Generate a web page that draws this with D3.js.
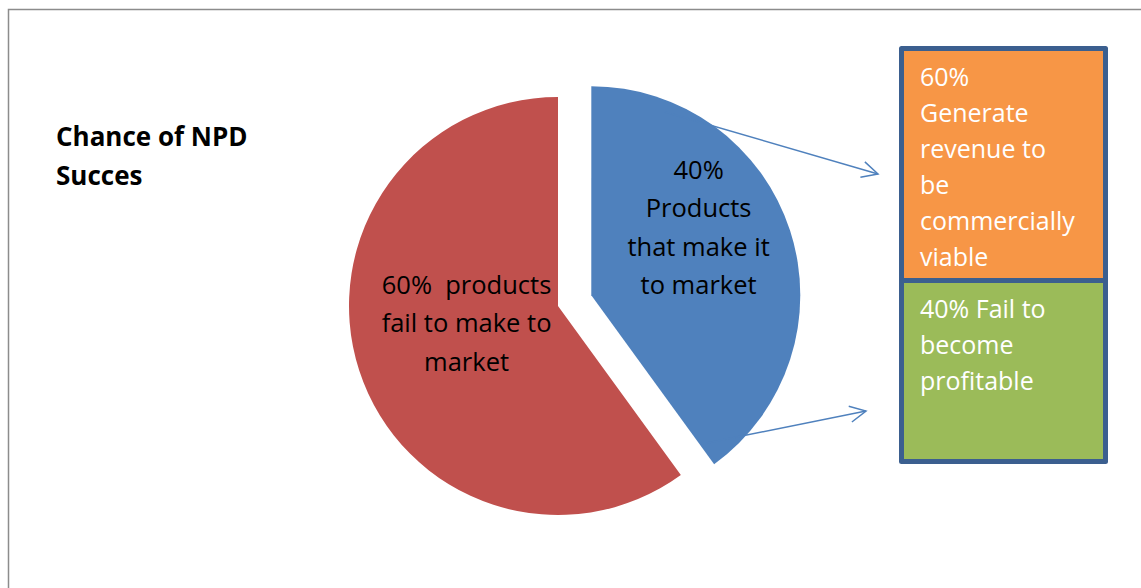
<!DOCTYPE html>
<html>
<head>
<meta charset="utf-8">
<style>
  body { margin: 0; background: #fff; }
  svg { display: block; }
  text { font-family: "Open Sans", "Noto Sans", sans-serif; white-space: pre; }
</style>
<script src="https://d3js.org/d3.v7.min.js"></script>
</head>
<body>
<script>
  // slice data (clockwise from 12 o'clock)
  var categories = ["40% Products that make it to market", "60%  products fail to make to market"];
  var values = [40, 60];
  var sliceColors = ["#4f81bd", "#c0504d"];
  var sliceLines = [["40%", "Products", "that make it", "to market"], ["60%  products", "fail to make to", "market"]];

  // breakdown of the 40% that make it to market
  var subCategories = ["60% Generate revenue to be commercially viable", "40% Fail to become profitable"];
  var subValues = [60, 40];
  var subColors = ["#f79646", "#9bbb59"];
  var subLines = [["60%", "Generate", "revenue to", "be", "commercially", "viable"], ["40% Fail to", "become", "profitable"]];

  var title = ["Chance of NPD", "Succes"];

  var W = 1141, H = 588;
  var cx = 558, cy = 306, r = 209, explode = 35;

  var svg = d3.select("body").append("svg")
      .attr("width", W).attr("height", H);

  // outer frame
  svg.append("rect")
      .attr("x", 8.5).attr("y", 9.5).attr("width", W + 20).attr("height", H + 20)
      .attr("fill", "none").attr("stroke", "#8c8c8c").attr("stroke-width", 1.5);

  // title
  svg.append("text")
      .attr("x", 56).attr("y", 146)
      .attr("font-size", 26).attr("font-weight", "bold").attr("fill", "#000")
      .selectAll("tspan").data(title).enter().append("tspan")
      .attr("x", 56).attr("dy", function (d, i) { return i ? 39 : 0; })
      .text(function (d) { return d; });

  var pie = d3.pie().sort(null).startAngle(0).endAngle(2 * Math.PI);
  var arcs = pie(values);
  var arc = d3.arc().innerRadius(0).outerRadius(r);

  var g = svg.append("g").attr("transform", "translate(" + cx + "," + cy + ")");

  function offset(d, i) {
    if (i !== 0) return [0, 0];
    var a = (d.startAngle + d.endAngle) / 2;
    return [Math.sin(a) * explode, -Math.cos(a) * explode];
  }

  var slices = g.selectAll(".slice").data(arcs).enter().append("g")
      .attr("class", "slice")
      .attr("transform", function (d, i) {
        var o = offset(d, i);
        return "translate(" + o[0] + "," + o[1] + ")";
      });

  slices.append("path")
      .attr("d", arc)
      .attr("fill", function (d, i) { return sliceColors[i]; });

  // label placement along each slice's mid angle
  var labelRadius = [0.55, 0.44];
  var labelShift = [[-2, -31], [-4, -10]];
  slices.append("text")
      .attr("text-anchor", "middle")
      .attr("font-size", 25.5).attr("fill", "#000")
      .each(function (d, i) {
        var c = d3.arc().innerRadius(r * labelRadius[i]).outerRadius(r * labelRadius[i]).centroid(d);
        var lines = sliceLines[i];
        var lh = 38.5;
        var x0 = c[0] + labelShift[i][0], y0 = c[1] + labelShift[i][1] - (lines.length - 1) * lh / 2 + 8;
        d3.select(this).selectAll("tspan").data(lines).enter().append("tspan")
          .attr("x", x0).attr("y", function (t, j) { return y0 + j * lh; })
          .text(function (t) { return t; });
      });

  // breakdown box
  var bx = 899, by = 46, bw = 209, bord = 5;
  var split = [227, 176];
  var bh = split[0] + split[1] + 3 * bord;
  var box = svg.append("g");
  var yPos = [by + bord, by + 2 * bord + split[0]];
  box.append("rect")
      .attr("x", bx).attr("y", by).attr("width", bw).attr("height", bh)
      .attr("rx", 2.5).attr("fill", "#3b5f8f");
  box.selectAll(".seg").data(subValues).enter().append("rect")
      .attr("class", "seg")
      .attr("x", bx + bord).attr("y", function (d, i) { return yPos[i]; })
      .attr("width", bw - 2 * bord).attr("height", function (d, i) { return split[i]; })
      .attr("fill", function (d, i) { return subColors[i]; });
  box.selectAll(".segtext").data(subLines).enter().append("text")
      .attr("class", "segtext")
      .attr("font-size", 25).attr("fill", "#fff")
      .each(function (lines, i) {
        var y0 = yPos[i] + 35;
        d3.select(this).selectAll("tspan").data(lines).enter().append("tspan")
          .attr("x", bx + 21).attr("y", function (t, j) { return y0 + j * 36; })
          .text(function (t) { return t; });
      });

  // arrows from the blue slice to the box
  var defs = svg.append("defs");
  defs.append("marker")
      .attr("id", "open").attr("viewBox", "0 0 20 20")
      .attr("refX", 18).attr("refY", 10)
      .attr("markerWidth", 20).attr("markerHeight", 20)
      .attr("markerUnits", "userSpaceOnUse")
      .attr("orient", "auto")
      .append("path").attr("d", "M2,2 L18,10 L2,18")
      .attr("fill", "none").attr("stroke", "#4f81bd").attr("stroke-width", 1.5);

  var arrows = [[[665, 112], [878, 174]], [[707, 443], [866, 411]]];
  svg.selectAll(".arrow").data(arrows).enter().append("line")
      .attr("class", "arrow")
      .attr("x1", function (d) { return d[0][0]; }).attr("y1", function (d) { return d[0][1]; })
      .attr("x2", function (d) { return d[1][0]; }).attr("y2", function (d) { return d[1][1]; })
      .attr("stroke", "#4f81bd").attr("stroke-width", 1.5)
      .attr("marker-end", "url(#open)");
</script>
</body>
</html>
